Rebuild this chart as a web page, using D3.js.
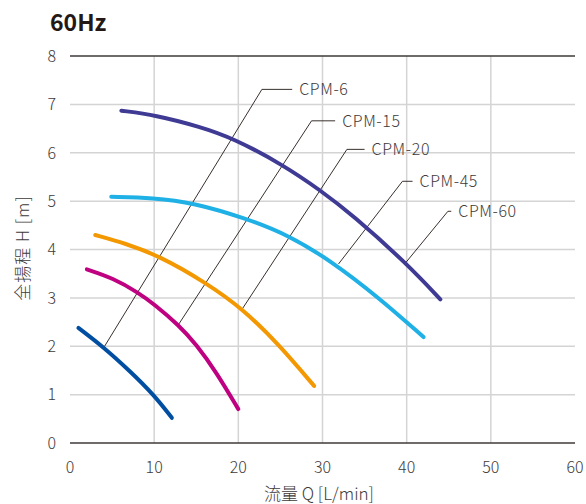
<!DOCTYPE html>
<html><head><meta charset="utf-8">
<script src="https://cdn.jsdelivr.net/npm/d3@7"></script>
<style>
html,body{margin:0;padding:0;background:#fff;}
text{font-family:"Noto Sans CJK JP","Noto Sans",sans-serif;}
</style></head>
<body><svg id="c" width="586" height="504"></svg>
<script>
const title = "60Hz";
const xLabel = "流量 Q [L/min]";
const yLabel = "全揚程 H [m]";
const xTicks = [0, 10, 20, 30, 40, 50, 60];
const yTicks = [0, 1, 2, 3, 4, 5, 6, 7, 8];
const seriesNames = ["CPM-6", "CPM-15", "CPM-20", "CPM-45", "CPM-60"];
const seriesColors = ["#004ea2", "#be0081", "#f39800", "#1fb0e6", "#3f3a93"];
const cpm6 = [[1.0,2.38],[4.0,1.98],[7.1,1.49],[10.0,0.99],[12.1,0.52]];
const cpm15 = [[2.0,3.59],[5.1,3.41],[8.1,3.11],[10.0,2.87],[12.9,2.44],[15.0,2.04],[17.4,1.46],[20.0,0.70]];
const cpm20 = [[3.0,4.30],[6.5,4.13],[10.7,3.86],[16.0,3.33],[20.5,2.78],[24.9,2.02],[29.0,1.18]];
const cpm45 = [[4.9,5.09],[9.9,5.07],[14.6,4.97],[21.0,4.64],[25.9,4.30],[30.9,3.78],[36.8,2.99],[42.0,2.19]];
const cpm60 = [[6.1,6.87],[10.1,6.78],[15.4,6.54],[19.4,6.30],[25.3,5.75],[29.7,5.23],[33.6,4.71],[40.0,3.71],[44.0,2.97]];
const seriesData = [cpm6, cpm15, cpm20, cpm45, cpm60];
// leader lines: anchor on curve, elbow, end of horizontal (data units)
const leaderAnchor = [[4.04,1.98],[12.86,2.44],[20.5,2.78],[31.9,3.70],[39.9,3.73]];
const leaderElbow = [[22.8,7.31],[28.7,6.66],[32.9,6.07],[39.5,5.41],[44.9,4.79]];
const leaderEndX = [26.4,31.5,35.0,40.7,45.3];

const svg = d3.select("#c");
const x = d3.scaleLinear().domain([0,60]).range([70,575]);
const y = d3.scaleLinear().domain([0,8]).range([443,56]);

// grid
const g = svg.append("g");
g.selectAll("line.v").data(xTicks.filter(d=>d>0&&d<60)).join("line")
  .attr("x1",d=>x(d)).attr("x2",d=>x(d)).attr("y1",y(0)).attr("y2",y(8))
  .attr("stroke","#d4d4d4").attr("stroke-width",1.5);
g.selectAll("line.h").data(yTicks).join("line")
  .attr("x1",x(0)).attr("x2",x(60)).attr("y1",d=>y(d)).attr("y2",d=>y(d))
  .attr("stroke",d=>(d===0||d===8)?"#3e3a39":"#d4d4d4").attr("stroke-width",1.5);

// tick labels
svg.selectAll("text.yt").data(yTicks).join("text")
  .attr("x",56).attr("y",d=>y(d)).attr("dy","0.36em").attr("text-anchor","end")
  .attr("font-size",16).attr("font-weight",300).attr("fill","#3e3a39").text(d=>d);
svg.selectAll("text.xt").data(xTicks).join("text")
  .attr("x",d=>x(d)).attr("y",473).attr("text-anchor","middle")
  .attr("font-size",16).attr("font-weight",300).attr("fill","#3e3a39").text(d=>d);

// axis titles
svg.append("text").attr("x",319).attr("y",500).attr("text-anchor","middle")
  .attr("font-size",17).attr("font-weight",300).attr("fill","#3e3a39").text(xLabel);
svg.append("text").attr("transform","translate(29,248) rotate(-90)").attr("text-anchor","middle")
  .attr("font-size",17).attr("font-weight",300).attr("letter-spacing","1px").attr("fill","#3e3a39").text(yLabel);

// title
svg.append("text").attr("x",50).attr("y",31).attr("font-size",23).attr("font-weight",700)
  .attr("fill","#231815").text(title);

// leaders
seriesNames.forEach((name,i)=>{
  const a = leaderAnchor[i], e = leaderElbow[i];
  svg.append("path")
    .attr("d", d3.line()([[x(a[0]),y(a[1])],[x(e[0]),y(e[1])],[x(leaderEndX[i]),y(e[1])]]))
    .attr("fill","none").attr("stroke","#231815").attr("stroke-width",0.9);
  svg.append("text").attr("x",x(leaderEndX[i])+7).attr("y",y(e[1])).attr("dy","0.36em")
    .attr("font-size",16).attr("font-weight",300).attr("fill","#3e3a39").attr("letter-spacing","0.6px").text(name);
});

// curves
const line = d3.line().x(d=>x(d[0])).y(d=>y(d[1])).curve(d3.curveBasis);
svg.selectAll("path.s").data(seriesData).join("path")
  .attr("d",line).attr("fill","none")
  .attr("stroke",(d,i)=>seriesColors[i]).attr("stroke-width",4).attr("stroke-linecap","round");
</script></body></html>
